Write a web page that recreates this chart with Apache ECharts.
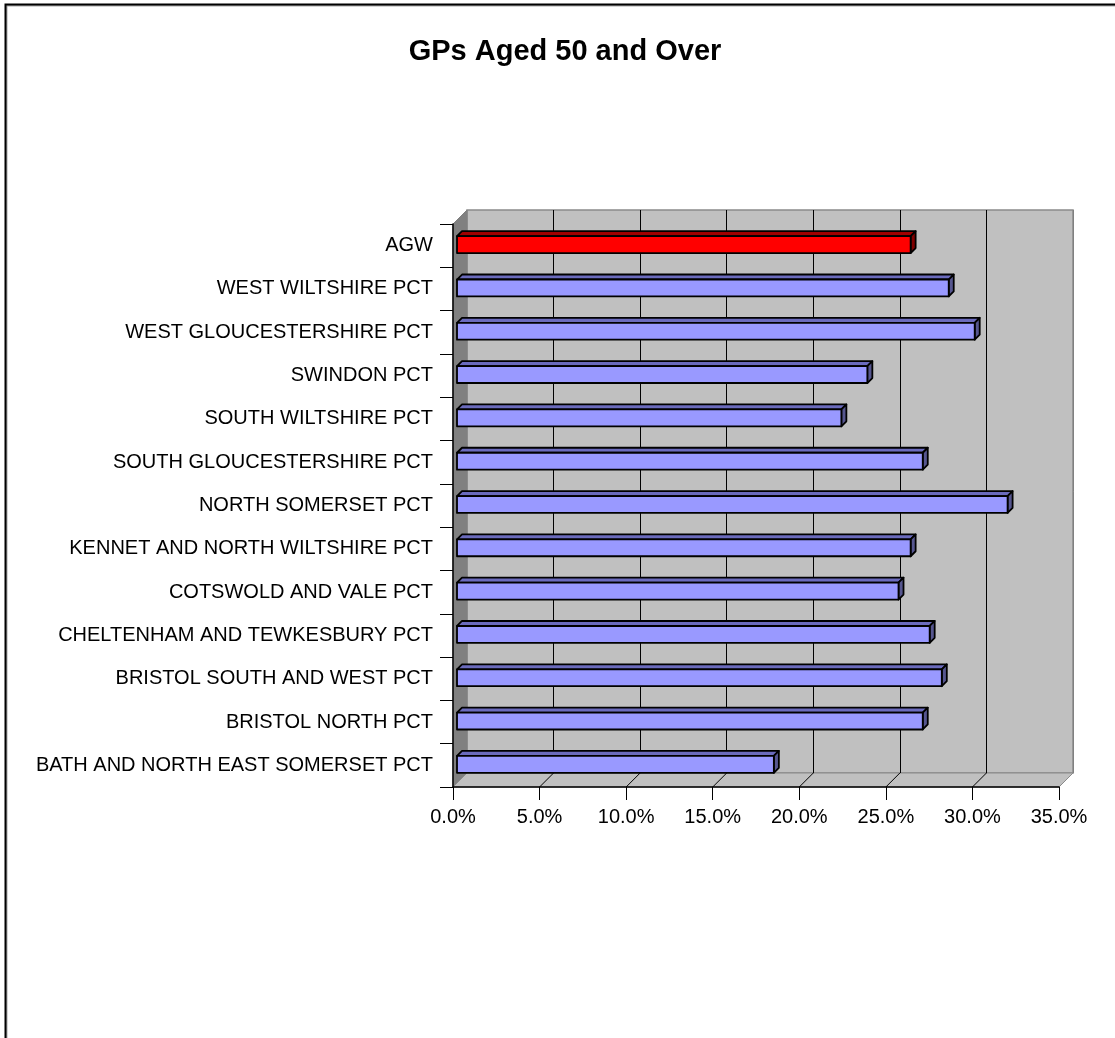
<!DOCTYPE html>
<html>
<head>
<meta charset="utf-8">
<script src="https://cdn.jsdelivr.net/npm/echarts@6/dist/echarts.min.js"></script>
<style>
html,body{margin:0;padding:0;background:#fff;}
#chart{width:1115px;height:1038px;}
</style>
</head>
<body>
<div id="chart"></div>
<script>
// Categories listed bottom-to-top (as drawn on the category axis)
const categories = [
  "BATH AND NORTH EAST SOMERSET PCT",
  "BRISTOL NORTH PCT",
  "BRISTOL SOUTH AND WEST PCT",
  "CHELTENHAM AND TEWKESBURY PCT",
  "COTSWOLD AND VALE PCT",
  "KENNET AND NORTH WILTSHIRE PCT",
  "NORTH SOMERSET PCT",
  "SOUTH GLOUCESTERSHIRE PCT",
  "SOUTH WILTSHIRE PCT",
  "SWINDON PCT",
  "WEST GLOUCESTERSHIRE PCT",
  "WEST WILTSHIRE PCT",
  "AGW"
];
const values = [18.3, 26.9, 28.0, 27.3, 25.5, 26.2, 31.8, 26.9, 22.2, 23.7, 29.9, 28.4, 26.2];
const highlighted = ["AGW"];
const xTicks = [0, 5, 10, 15, 20, 25, 30, 35];
const titleText = "GPs Aged 50 and Over";

const FONT = "'Liberation Sans', Arial, sans-serif";
const chart = echarts.init(document.getElementById('chart'), null, {renderer: 'canvas'});

const L = 453, T = 224, W = 606, H = 563, D = 14; // front plane & wall depth
const BD = 5; // bar depth offset

function barItem(params, api) {
  const idx = api.value(0);
  const val = api.value(1);
  const p0 = api.coord([0, idx]);
  const p1 = api.coord([val, idx]);
  const band = api.size([0, 1])[1];
  const h = band * 0.39;
  const xa = p0[0] + 4, xb = p1[0] + 4;
  const yc = p0[1] - 1;
  const yt = yc - h / 2, yb = yc + h / 2;
  const hi = highlighted.indexOf(categories[idx]) >= 0;
  const front = hi ? '#ff0000' : '#9999ff';
  const top = hi ? '#a00000' : '#6b6bbd';
  const side = hi ? '#800000' : '#56568f';
  const stroke = {stroke: '#000', lineWidth: 1.8, lineJoin: 'round'};
  return {
    type: 'group',
    children: [
      {type: 'polygon', shape: {points: [[xa, yt], [xa + BD, yt - BD], [xb + BD, yt - BD], [xb, yt]]},
       style: Object.assign({fill: top}, stroke)},
      {type: 'polygon', shape: {points: [[xb, yt], [xb + BD, yt - BD], [xb + BD, yb - BD], [xb, yb]]},
       style: Object.assign({fill: side}, stroke)},
      {type: 'rect', shape: {x: xa, y: yt, width: xb - xa, height: h},
       style: Object.assign({fill: front}, stroke)}
    ]
  };
}

const option = {
  backgroundColor: '#ffffff',
  animation: false,
  grid: [
    {left: L + D, top: T - D, width: W, height: H, containLabel: false},
    {left: L, top: T, width: W, height: H, containLabel: false}
  ],
  xAxis: [
    {gridIndex: 0, type: 'value', min: 0, max: 35, interval: 5,
     axisLine: {show: false}, axisTick: {show: false}, axisLabel: {show: false},
     splitLine: {show: true, lineStyle: {color: ['rgba(0,0,0,0)', '#000', '#000', '#000', '#000', '#000', '#000', '#808080'], width: 1}}},
    {gridIndex: 1, type: 'value', min: 0, max: 35, interval: 5,
     axisLine: {show: true, lineStyle: {color: '#000', width: 1.5}},
     axisTick: {show: true, length: 13, lineStyle: {color: '#000', width: 1}},
     splitLine: {show: false},
     axisLabel: {show: true, margin: 20, color: '#000', fontFamily: FONT, fontSize: 20,
       formatter: v => v.toFixed(1) + '%'}}
  ],
  yAxis: [
    {gridIndex: 0, type: 'category', data: categories, show: false},
    {gridIndex: 1, type: 'category', data: categories,
     axisLine: {show: true, lineStyle: {color: '#000', width: 1.5}},
     axisTick: {show: true, length: 13, lineStyle: {color: '#000', width: 1}},
     axisLabel: {show: true, margin: 20, color: '#000', fontFamily: FONT, fontSize: 20},
     splitLine: {show: false}}
  ],
  series: [
    {type: 'custom', xAxisIndex: 1, yAxisIndex: 1, z: 5,
     renderItem: barItem,
     encode: {x: 1, y: 0},
     data: values.map((v, i) => [i, v])}
  ]
};
chart.setOption(option);

// decorations: walls, floor (positions from the axis scales)
const px = v => chart.convertToPixel({xAxisIndex: 1}, v);
const x0 = px(0), x35 = px(35);
const yTop = T, yBot = T + H;
const graphics = [
  {type: 'rect', z: -10, shape: {x: 5.5, y: 4.5, width: 1200, height: 1100},
   style: {fill: '#fff', stroke: '#000', lineWidth: 2, shadowColor: 'rgba(0,0,0,0.35)', shadowOffsetX: 1, shadowOffsetY: 1}},
  {type: 'rect', z: -5, shape: {x: x0 + D, y: yTop - D, width: x35 - x0, height: H},
   style: {fill: '#c0c0c0', stroke: '#8a8a8a', lineWidth: 1.5}},
  {type: 'polygon', z: -4, shape: {points: [[x0, yTop], [x0 + D, yTop - D], [x0 + D, yBot - D], [x0, yBot]]},
   style: {fill: '#808080', stroke: '#808080', lineWidth: 1}},
  {type: 'polygon', z: -4, shape: {points: [[x0, yBot], [x0 + D, yBot - D], [x35 + D, yBot - D], [x35, yBot]]},
   style: {fill: '#c0c0c0', stroke: '#8a8a8a', lineWidth: 1}},
  {type: 'text', z: 10, x: 565, y: 52,
   style: {text: titleText, fill: '#000', font: 'bold 29px ' + FONT, textAlign: 'center', textVerticalAlign: 'middle'}}
];
xTicks.forEach(v => {
  if (v === 0 || v === 35) return;
  const x = px(v);
  graphics.push({type: 'line', z: -3, shape: {x1: x, y1: yBot, x2: x + D, y2: yBot - D},
    style: {stroke: '#000', lineWidth: 1}});
});
chart.setOption({graphic: graphics});
</script>
</body>
</html>
